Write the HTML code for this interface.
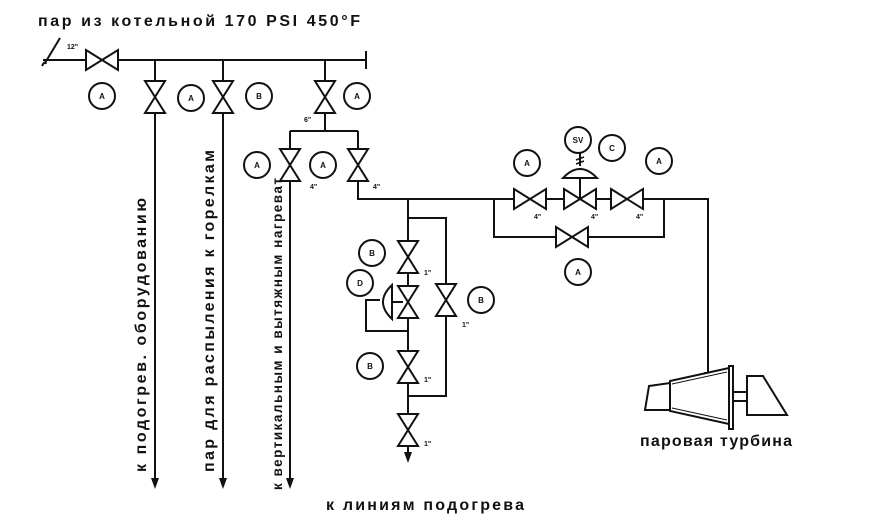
<!DOCTYPE html>
<html><head><meta charset="utf-8"><style>
html,body{margin:0;padding:0;background:#fff;}
svg{display:block;}
text{font-family:"Liberation Sans","DejaVu Sans",sans-serif;fill:#111;}
.t{font-size:16px;font-weight:bold;}
.s{font-size:7px;font-weight:bold;}
.c{font-size:8px;font-weight:bold;text-anchor:middle;}
</style></head><body>
<svg width="880" height="529" viewBox="0 0 880 529" xmlns="http://www.w3.org/2000/svg">
<defs>
<g id="vh"><polygon points="-16,-10 16,10 16,-10 -16,10" fill="#fff" stroke="#111" stroke-width="2"/></g>
<g id="vv"><polygon points="-10,-16 10,16 -10,16 10,-16" fill="#fff" stroke="#111" stroke-width="2"/></g>
<g id="ci"><circle r="13" fill="#fff" stroke="#111" stroke-width="2"/></g>
</defs>
<g stroke="#111" stroke-width="2" fill="none">
<line x1="43" y1="60" x2="366" y2="60"/>
<line x1="366" y1="51" x2="366" y2="69"/>
<line x1="45" y1="63" x2="60" y2="38"/>
<path d="M42,66 q3,-6 4,-2"/>
<line x1="155" y1="60" x2="155" y2="484"/>
<line x1="223" y1="60" x2="223" y2="484"/>
<line x1="325" y1="60" x2="325" y2="131"/>
<line x1="290" y1="131" x2="358" y2="131"/>
<line x1="290" y1="131" x2="290" y2="484"/>
<polyline points="358,131 358,199 708,199 708,378"/>
<polyline points="494,199 494,237 664,237 664,199"/>
<line x1="408" y1="199" x2="408" y2="458"/>
<polyline points="408,218 446,218 446,396 408,396"/>
<polyline points="380,300 366,300 366,331 408,331"/>
</g>
<g fill="#111">
<polygon points="151,478 159,478 155,489"/>
<polygon points="219,478 227,478 223,489"/>
<polygon points="286,478 294,478 290,489"/>
<polygon points="404,452 412,452 408,463"/>
<polygon points="704,372 712,372 708,383"/>
</g>
<use href="#vh" x="102" y="60"/>
<use href="#vv" x="155" y="97"/>
<use href="#vv" x="223" y="97"/>
<use href="#vv" x="325" y="97"/>
<use href="#vv" x="290" y="165"/>
<use href="#vv" x="358" y="165"/>
<use href="#vh" x="530" y="199"/>
<use href="#vh" x="580" y="199"/>
<use href="#vh" x="627" y="199"/>
<use href="#vh" x="572" y="237"/>
<use href="#vv" x="408" y="257"/>
<use href="#vv" x="408" y="302"/>
<use href="#vv" x="408" y="367"/>
<use href="#vv" x="408" y="430"/>
<use href="#vv" x="446" y="300"/>
<g stroke="#111" stroke-width="2" fill="#fff">
<line x1="580" y1="178" x2="580" y2="199"/>
<path d="M563,178 Q580,160 597,178 Z"/>
<line x1="580" y1="153" x2="580" y2="166"/>
<line x1="576" y1="160" x2="584" y2="157" stroke-width="1.5"/>
<line x1="576" y1="164" x2="584" y2="161" stroke-width="1.5"/>
<line x1="392" y1="302" x2="403" y2="302"/>
<path d="M392,285 Q374,302 392,319 Z"/>
</g>
<g>
<use href="#ci" x="102" y="96"/><text class="c" x="102" y="99">A</text>
<use href="#ci" x="191" y="98"/><text class="c" x="191" y="101">A</text>
<use href="#ci" x="259" y="96"/><text class="c" x="259" y="99">B</text>
<use href="#ci" x="357" y="96"/><text class="c" x="357" y="99">A</text>
<use href="#ci" x="257" y="165"/><text class="c" x="257" y="168">A</text>
<use href="#ci" x="323" y="165"/><text class="c" x="323" y="168">A</text>
<use href="#ci" x="578" y="140"/><text class="c" x="578" y="143">SV</text>
<use href="#ci" x="612" y="148"/><text class="c" x="612" y="151">C</text>
<use href="#ci" x="527" y="163"/><text class="c" x="527" y="166">A</text>
<use href="#ci" x="659" y="161"/><text class="c" x="659" y="164">A</text>
<use href="#ci" x="578" y="272"/><text class="c" x="578" y="275">A</text>
<use href="#ci" x="372" y="253"/><text class="c" x="372" y="256">B</text>
<use href="#ci" x="360" y="283"/><text class="c" x="360" y="286">D</text>
<use href="#ci" x="481" y="300"/><text class="c" x="481" y="303">B</text>
<use href="#ci" x="370" y="366"/><text class="c" x="370" y="369">B</text>
</g>
<g stroke="#111" stroke-width="2" fill="#fff">
<polygon points="649,386 670,383 670,410 645,410"/>
<polygon points="670,381 729,368 729,424 670,411"/>
<line x1="672" y1="384" x2="727" y2="372" stroke-width="1"/>
<line x1="672" y1="408" x2="727" y2="420" stroke-width="1"/>
<rect x="729" y="366" width="4" height="63"/>
<rect x="733" y="392" width="14" height="9"/>
<polygon points="747,376 763,376 787,415 747,415"/>
</g>
<text class="s" x="67" y="49">12"</text>
<text class="s" x="304" y="122">6"</text>
<text class="s" x="310" y="189">4"</text>
<text class="s" x="373" y="189">4"</text>
<text class="s" x="534" y="219">4"</text>
<text class="s" x="591" y="219">4"</text>
<text class="s" x="636" y="219">4"</text>
<text class="s" x="424" y="275">1"</text>
<text class="s" x="462" y="327">1"</text>
<text class="s" x="424" y="382">1"</text>
<text class="s" x="424" y="446">1"</text>
<text class="t" x="38" y="26" textLength="322" lengthAdjust="spacing">пар из котельной  170 PSI 450°F</text>
<text class="t" x="640" y="446" textLength="152" lengthAdjust="spacing">паровая турбина</text>
<text class="t" x="326" y="510" textLength="198" lengthAdjust="spacing">к линиям подогрева</text>
<text class="t" transform="translate(146,472) rotate(-90)" textLength="274" lengthAdjust="spacing">к подогрев. оборудованию</text>
<text class="t" transform="translate(214,472) rotate(-90)" textLength="322" lengthAdjust="spacing">пар для распыления к горелкам</text>
<text class="t" style="font-size:13.5px" transform="translate(282,490) rotate(-90)" textLength="312" lengthAdjust="spacing">к вертикальным и вытяжным нагреват</text>
</svg>
</body></html>
